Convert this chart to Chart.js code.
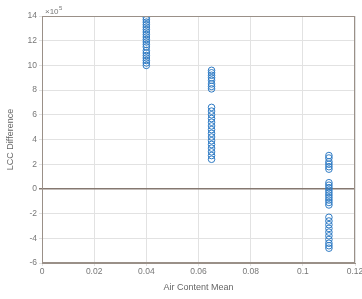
<!DOCTYPE html>
<html lang="en">
<head>
    <meta charset="UTF-8">
    <title>LCC Difference vs Air Content Mean</title>
    <script src="https://cdn.jsdelivr.net/npm/chart.js"></script>
    <style>
        html, body { margin: 0; padding: 0; background: #fff; }
        #wrap { width: 362px; height: 299px; }
    </style>
</head>
<body>
    <div id="wrap"><canvas id="lccChart"></canvas></div>
    <script>
        // air content levels (x) and LCC difference values (x 10^5)
        const airContent = [0.04, 0.065, 0.11];
        const lccAt040 = [13.9, 13.7, 13.5, 13.3, 13.1, 12.9, 12.7, 12.5, 12.3, 12.1, 11.9, 11.7, 11.5, 11.2, 11.0, 10.8, 10.6, 10.4, 10.2, 10.0];
        const lccAt065 = [9.6, 9.4, 9.2, 9.0, 8.8, 8.5, 8.3, 8.1, 6.6, 6.3, 6.0, 5.7, 5.4, 5.1, 4.8, 4.5, 4.2, 3.9, 3.6, 3.3, 3.0, 2.7, 2.4];
        const lccAt110 = [2.7, 2.5, 2.2, 2.0, 1.8, 1.6, 0.5, 0.3, 0.1, -0.1, -0.3, -0.5, -0.7, -0.9, -1.1, -1.3, -2.3, -2.6, -2.9, -3.2, -3.5, -3.8, -4.1, -4.4, -4.6, -4.8];
        const xTicks = [0, 0.02, 0.04, 0.06, 0.08, 0.1, 0.12];
        const yTicks = [-6, -4, -2, 0, 2, 4, 6, 8, 10, 12, 14];

        let points = [];
        [lccAt040, lccAt065, lccAt110].forEach((vals, i) => {
            vals.forEach(v => points.push({ x: airContent[i], y: v }));
        });

        const tickFont = { family: "Liberation Sans", size: 8.5 };

        const boxPlugin = {
            id: "box",
            afterDraw(chart) {
                let a = chart.chartArea;
                let ctx = chart.ctx;
                ctx.save();
                ctx.strokeStyle = "#9a9088";
                ctx.lineWidth = 1;
                ctx.strokeRect(a.left + 0.5, a.top + 0.5, a.right - a.left - 1, a.bottom - a.top - 1);
                // exponent label
                ctx.fillStyle = "#777";
                ctx.font = "8px 'Liberation Sans'";
                ctx.textBaseline = "alphabetic";
                ctx.fillText("\u00d710", a.left + 3, a.top - 2);
                ctx.font = "6px 'Liberation Sans'";
                ctx.fillText("5", a.left + 17, a.top - 6);
                ctx.restore();
            }
        };

        new Chart(document.getElementById("lccChart"), {
            type: "scatter",
            data: {
                datasets: [{
                    data: points,
                    pointStyle: "circle",
                    pointRadius: 3.3,
                    pointBorderWidth: 1,
                    borderColor: "#2f7bc4",
                    backgroundColor: "rgba(0,0,0,0)"
                }]
            },
            options: {
                responsive: true,
                maintainAspectRatio: false,
                animation: false,
                layout: { padding: { top: 16, right: 7, left: 0, bottom: 0 } },
                plugins: { legend: { display: false }, tooltip: { enabled: false } },
                scales: {
                    x: {
                        type: "linear",
                        min: 0,
                        max: 0.12,
                        afterBuildTicks: s => { s.ticks = xTicks.map(v => ({ value: v })); },
                        afterFit: s => { s.height = 36; s.paddingLeft = 0; s.paddingRight = 0; },
                        ticks: {
                            font: tickFont,
                            color: "#777",
                            padding: 1,
                            maxRotation: 0,
                            callback: v => String(Math.round(v * 100) / 100)
                        },
                        grid: { color: "#e2e2e2", tickLength: 3 },
                        border: { color: "#9a9088" },
                        title: {
                            display: true,
                            text: "Air Content Mean",
                            font: { family: "Liberation Sans", size: 9 },
                            color: "#666",
                            padding: { top: 3, bottom: 6 }
                        }
                    },
                    y: {
                        min: -6,
                        max: 14,
                        afterBuildTicks: s => { s.ticks = yTicks.map(v => ({ value: v })); },
                        afterFit: s => { s.width = 42; },
                        ticks: { font: tickFont, color: "#777", padding: 2 },
                        grid: {
                            color: c => c.tick && c.tick.value === 0 ? "#857870" : "#e2e2e2",
                            lineWidth: c => c.tick && c.tick.value === 0 ? 1.5 : 1,
                            tickLength: 3
                        },
                        border: { color: "#9a9088" },
                        title: {
                            display: true,
                            text: "LCC Difference",
                            font: { family: "Liberation Sans", size: 9 },
                            color: "#666",
                            padding: { top: 5, bottom: 2 }
                        }
                    }
                }
            },
            plugins: [boxPlugin]
        });
    </script>
</body>
</html>
